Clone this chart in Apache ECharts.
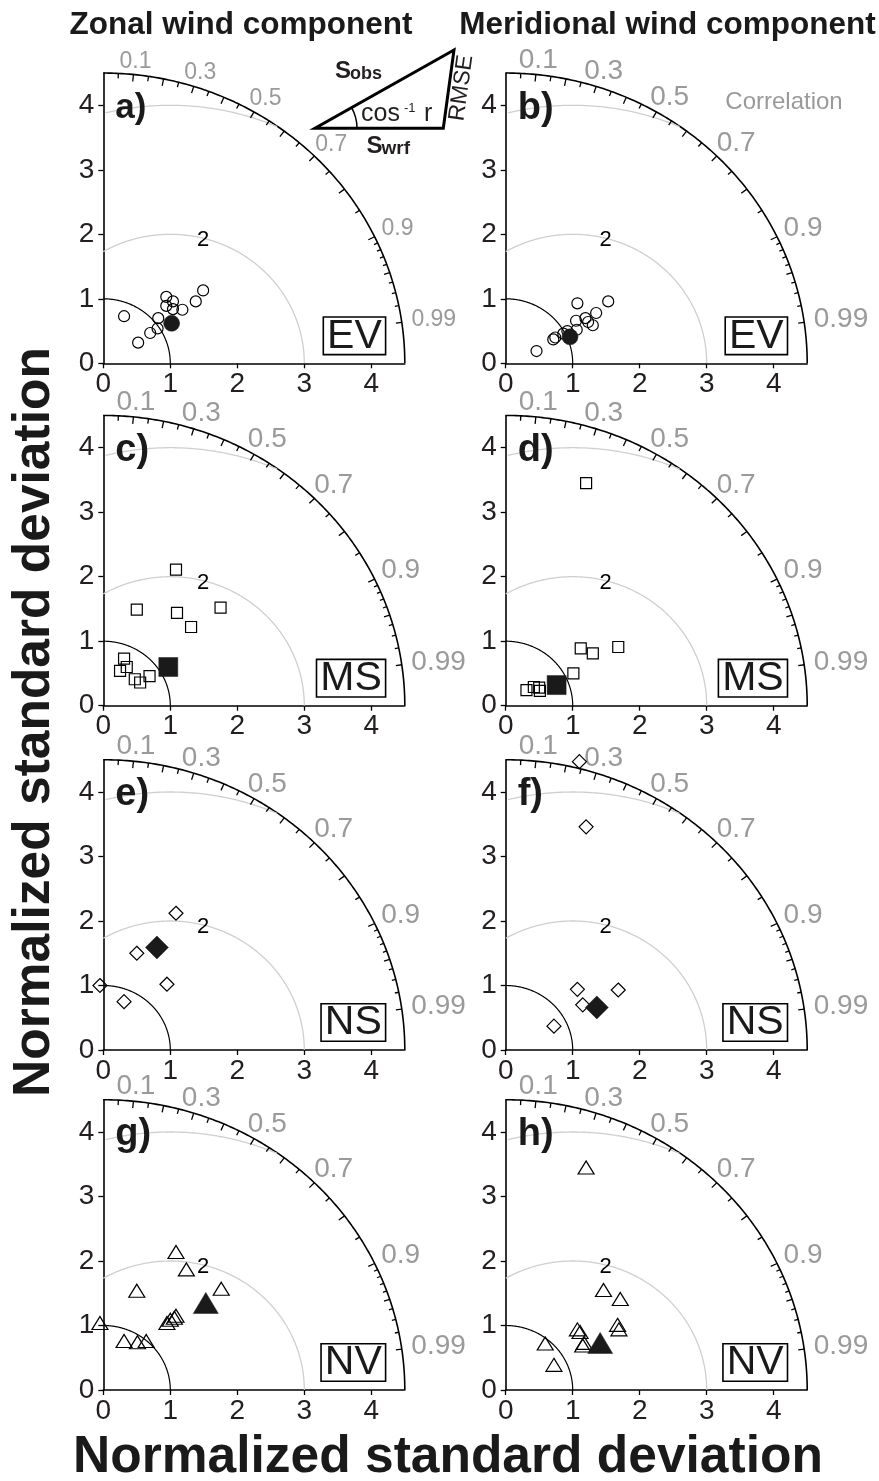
<!DOCTYPE html>
<html>
<head>
<meta charset="utf-8">
<script src="https://cdn.jsdelivr.net/npm/echarts@6/dist/echarts.min.js"></script>
<style>
  html, body { margin: 0; padding: 0; background: #fff; }
  #chart { width: 879px; height: 1481px; }
</style>
</head>
<body>
<div id="chart"></div>
<script>
// Taylor diagram points, [x, y] in normalized std units (x = s*r, y = s*sqrt(1-r^2))
const ZONAL_EV = [[0.31, 0.73], [0.52, 0.32], [0.70, 0.47], [0.81, 0.54], [0.82, 0.70], [0.94, 1.03],
  [0.94, 0.89], [1.04, 0.96], [1.04, 0.84], [1.18, 0.83], [1.38, 0.96], [1.49, 1.13]];
const ZONAL_EV_MEAN = [[1.02, 0.62]];
const MERID_EV = [[0.46, 0.19], [0.71, 0.37], [0.74, 0.40], [0.86, 0.46], [0.92, 0.50], [1.06, 0.52],
  [1.05, 0.66], [1.07, 0.93], [1.19, 0.70], [1.23, 0.64], [1.30, 0.59], [1.35, 0.78], [1.53, 0.96]];
const MERID_EV_MEAN = [[0.96, 0.41]];

const ZONAL_MS = [[1.085, 2.11], [0.50, 1.49], [1.10, 1.44], [1.31, 1.22], [1.75, 1.52], [0.31, 0.73],
  [0.25, 0.54], [0.35, 0.60], [0.47, 0.41], [0.55, 0.36], [0.69, 0.46]];
const ZONAL_MS_MEAN = [[0.97, 0.60]];
const MERID_MS = [[1.20, 3.45], [1.12, 0.89], [1.30, 0.81], [1.68, 0.91], [1.01, 0.50], [0.31, 0.24],
  [0.42, 0.29], [0.51, 0.23], [0.50, 0.28]];
const MERID_MS_MEAN = [[0.76, 0.32]];

const ZONAL_NS = [[1.085, 2.12], [0.50, 1.50], [0.95, 1.02], [-0.05, 1.00], [0.31, 0.75]];
const ZONAL_NS_MEAN = [[0.80, 1.59]];
const MERID_NS = [[1.10, 4.47], [1.20, 3.46], [1.07, 0.94], [1.15, 0.70], [1.68, 0.93], [0.72, 0.37]];
const MERID_NS_MEAN = [[1.36, 0.66]];

const ZONAL_NV = [[1.085, 2.14], [1.24, 1.87], [0.50, 1.54], [1.76, 1.57], [-0.05, 1.04], [0.31, 0.76],
  [0.51, 0.74], [0.64, 0.76], [0.95, 1.04], [1.00, 1.09], [1.06, 1.12], [1.085, 1.15]];
const ZONAL_NV_MEAN = [[1.53, 1.35]];
const MERID_NV = [[1.20, 3.45], [1.46, 1.55], [1.71, 1.41], [1.67, 1.01], [1.69, 0.94], [1.07, 0.94],
  [1.11, 0.90], [1.17, 0.73], [1.15, 0.69], [0.59, 0.72], [0.72, 0.39]];
const MERID_NV_MEAN = [[1.41, 0.73]];

const AXIS_VALUES = [0, 1, 2, 3, 4];
const CORR_LABELS = [0.1, 0.3, 0.5, 0.7, 0.9, 0.99];
const CORR_TICKS = [0.05, 0.1, 0.15, 0.2, 0.25, 0.3, 0.35, 0.4, 0.45, 0.5, 0.55, 0.6, 0.65, 0.7, 0.75,
  0.8, 0.85, 0.9, 0.91, 0.92, 0.93, 0.94, 0.95, 0.96, 0.97, 0.98, 0.99];
const RMSE_ARCS = [2, 4];
const RMSE_LABEL = '2';
const REF_STD = 1;
const MAX_STD = 4.5;

const panels = [
  { letter: 'a)', tag: 'EV', symbol: 'circle', open: ZONAL_EV, mean: ZONAL_EV_MEAN },
  { letter: 'b)', tag: 'EV', symbol: 'circle', open: MERID_EV, mean: MERID_EV_MEAN },
  { letter: 'c)', tag: 'MS', symbol: 'rect', open: ZONAL_MS, mean: ZONAL_MS_MEAN },
  { letter: 'd)', tag: 'MS', symbol: 'rect', open: MERID_MS, mean: MERID_MS_MEAN },
  { letter: 'e)', tag: 'NS', symbol: 'diamond', open: ZONAL_NS, mean: ZONAL_NS_MEAN },
  { letter: 'f)', tag: 'NS', symbol: 'diamond', open: MERID_NS, mean: MERID_NS_MEAN },
  { letter: 'g)', tag: 'NV', symbol: 'triangle', open: ZONAL_NV, mean: ZONAL_NV_MEAN },
  { letter: 'h)', tag: 'NV', symbol: 'triangle', open: MERID_NV, mean: MERID_NV_MEAN }
];

const FONT = 'Liberation Sans, Arial, Helvetica, sans-serif';
const GRAY = '#9a9a9a';
const INK = '#231f20';
const COL_X = [103.3, 505.7];
const ROW_ZERO = [363.3, 705.7, 1050, 1390];
const PX_X = 67, PX_Y = 64.5;

const markerSize = {
  circle: { open: 11, mean: 16 },
  rect: { open: 11, mean: 19 },
  diamond: { open: 14, mean: 23 },
  triangle: { open: [16, 13], mean: [25, 21] }
};

function decorations(labelSize) {
  return function (params, api) {
    const kids = [];
    const P = (x, y) => api.coord([x, y]);
    const o = P(0, 0);
    const line = (pts, color, w) => kids.push({
      type: 'polyline', shape: { points: pts },
      style: { stroke: color, lineWidth: w, fill: null }
    });
    // outer std arc and reference arc
    [MAX_STD, REF_STD].forEach(function (r, k) {
      const pts = [];
      for (let a = 0; a <= 90; a += 0.5) {
        const t = a * Math.PI / 180;
        pts.push(P(r * Math.cos(t), r * Math.sin(t)));
      }
      line(pts, '#000', k === 0 ? 1.6 : 1.2);
    });
    // rmse arcs around the reference point
    RMSE_ARCS.forEach(function (R) {
      const pts = [];
      for (let a = 0; a <= 180; a += 0.5) {
        const t = a * Math.PI / 180;
        const x = REF_STD + R * Math.cos(t), y = R * Math.sin(t);
        if (x < 0) break;
        if (x * x + y * y <= MAX_STD * MAX_STD) pts.push(P(x, y));
      }
      line(pts, '#cfcfcf', 1.3);
    });
    // correlation ticks
    CORR_TICKS.forEach(function (c) {
      const t = Math.acos(c);
      const p = P(MAX_STD * c, MAX_STD * Math.sin(t));
      const dx = o[0] - p[0], dy = o[1] - p[1], d = Math.hypot(dx, dy);
      const major = Math.abs(c * 10 - Math.round(c * 10)) < 1e-6 || c === 0.95 || c === 0.99;
      const len = c > 0.9 ? (major ? 6 : 4) : (major ? 7 : 5);
      kids.push({
        type: 'line',
        shape: { x1: p[0], y1: p[1], x2: p[0] + dx / d * len, y2: p[1] + dy / d * len },
        style: { stroke: '#000', lineWidth: 1.3 }
      });
    });
    // correlation labels
    CORR_LABELS.forEach(function (c) {
      const t = Math.acos(c), s = Math.sin(t);
      const p = P(MAX_STD * c, MAX_STD * s);
      const txt = String(c);
      const hw = labelSize * (0.556 * (txt.length - 1) + 0.278) / 2;
      const hh = labelSize * 0.36;
      const gap = 4 + 6 * c;
      kids.push({
        type: 'text',
        x: p[0] + c * (gap + hw),
        y: p[1] - s * (gap + hh),
        style: {
          text: txt, fill: GRAY, font: labelSize + 'px ' + FONT,
          align: 'center', textAlign: 'center', verticalAlign: 'middle', textVerticalAlign: 'middle'
        }
      });
    });
    const q = P(1.49, 1.91);
    kids.push({
      type: 'text', x: q[0], y: q[1],
      style: {
        text: RMSE_LABEL, fill: '#000', font: '22px ' + FONT,
        align: 'center', textAlign: 'center', verticalAlign: 'middle', textVerticalAlign: 'middle'
      }
    });
    return { type: 'group', children: kids };
  };
}

const grid = [], xAxis = [], yAxis = [], series = [];
const graphic = [];

function txt(text, x, y, size, opts) {
  opts = opts || {};
  graphic.push({
    type: 'text', x: x, y: y, rotation: opts.rotation || 0, z: 10,
    style: {
      text: text, fill: opts.color || INK,
      font: (opts.bold ? 'bold ' : '') + size + 'px ' + FONT,
      align: opts.align || 'left', textAlign: opts.align || 'left',
      verticalAlign: 'middle', textVerticalAlign: 'middle'
    }
  });
}

panels.forEach(function (pn, i) {
  const col = i % 2, row = Math.floor(i / 2);
  const left = COL_X[col], zero = ROW_ZERO[row];
  grid.push({
    left: left, top: zero - MAX_STD * PX_Y, width: MAX_STD * PX_X, height: MAX_STD * PX_Y,
    outerBoundsMode: 'none', containLabel: false
  });
  const axisCommon = {
    gridIndex: i, type: 'value', min: 0, max: MAX_STD, interval: 1,
    axisLine: { show: true, onZero: false, lineStyle: { color: '#000', width: 1.6 } },
    axisTick: { show: true, inside: false, length: 5, customValues: AXIS_VALUES, lineStyle: { color: '#000', width: 1.3 } },
    splitLine: { show: false },
    axisLabel: {
      customValues: AXIS_VALUES, color: INK, fontSize: 28, fontFamily: FONT,
      formatter: v => (v % 1 === 0 ? String(v) : '')
    }
  };
  xAxis.push(Object.assign({}, axisCommon, {
    position: 'bottom',
    axisLabel: Object.assign({}, axisCommon.axisLabel, { margin: 7 })
  }));
  yAxis.push(Object.assign({}, axisCommon, {
    position: 'left',
    axisLabel: Object.assign({}, axisCommon.axisLabel, { margin: 9 })
  }));

  series.push({
    type: 'custom', xAxisIndex: i, yAxisIndex: i, clip: false, silent: true, z: 1,
    data: [[0, 0]],
    renderItem: decorations(i === 0 ? 23 : 28)
  });
  const sz = markerSize[pn.symbol];
  series.push({
    type: 'scatter', xAxisIndex: i, yAxisIndex: i, clip: false, silent: true, z: 3,
    symbol: pn.symbol, symbolSize: sz.open, data: pn.open,
    itemStyle: { color: 'rgba(255,255,255,0)', borderColor: '#000', borderWidth: 1.2, opacity: 1 }
  });
  series.push({
    type: 'scatter', xAxisIndex: i, yAxisIndex: i, clip: false, silent: true, z: 4,
    symbol: pn.symbol, symbolSize: sz.mean, data: pn.mean,
    itemStyle: { color: '#1a1a1a', borderColor: '#1a1a1a', borderWidth: 0.5, opacity: 1 }
  });

  // panel letter
  txt(pn.letter, left + (col ? 12 : 12), zero - 255, i === 0 ? 35 : 38, { bold: true, color: '#1a1a1a' });
  // region tag in a box
  const boxRight = left + (col ? 281 : 281.5);
  graphic.push({
    type: 'text', x: boxRight, y: zero - 9.5, z: 10,
    style: {
      text: pn.tag, fill: '#1a1a1a', font: '41px ' + FONT,
      align: 'right', textAlign: 'right', verticalAlign: 'bottom', textVerticalAlign: 'bottom',
      lineHeight: 35, padding: [1, 3, 0, 3],
      backgroundColor: '#fff', borderColor: '#000', borderWidth: 1.6
    }
  });
});

// column titles and axis names
txt('Zonal wind component', 241, 25, 31.5, { bold: true, align: 'center', color: '#1a1a1a' });
txt('Meridional wind component', 667.5, 25, 31.5, { bold: true, align: 'center', color: '#1a1a1a' });
txt('Normalized standard deviation', 448, 1458, 51.5, { bold: true, align: 'center', color: '#1a1a1a' });
txt('Normalized standard deviation', 35, 722, 51.5, { bold: true, align: 'center', color: '#1a1a1a', rotation: Math.PI / 2 });
txt('Correlation', 784, 102, 24, { align: 'center', color: GRAY });

// inset sketch of the diagram geometry
graphic.push({
  type: 'polygon', z: 10,
  shape: { points: [[315, 128.3], [443.3, 128.3], [454, 50]] },
  style: { fill: null, stroke: '#000', lineWidth: 3, lineJoin: 'miter' }
});
graphic.push({
  type: 'arc', z: 10,
  shape: { cx: 315, cy: 128.3, r: 42, startAngle: -Math.atan2(78.3, 139), endAngle: 0, clockwise: true },
  style: { fill: null, stroke: '#000', lineWidth: 1.5 }
});
txt('S', 335, 71.6, 24, { bold: true });
txt('obs', 350, 73.7, 18, { bold: true });
txt('S', 366.5, 146.6, 24, { bold: true });
txt('wrf', 381.5, 148.4, 19, { bold: true });
txt('cos', 361, 114.3, 25);
txt('-1', 404, 108.5, 13);
txt('r', 424, 114.3, 25);
txt('RMSE', 461.5, 88, 23, { align: 'center', rotation: 82 * Math.PI / 180 });

const chart = echarts.init(document.getElementById('chart'), null, { renderer: 'canvas' });
chart.setOption({
  backgroundColor: '#fff',
  animation: false,
  grid: grid,
  xAxis: xAxis,
  yAxis: yAxis,
  series: series,
  graphic: { elements: graphic }
});
</script>
</body>
</html>
